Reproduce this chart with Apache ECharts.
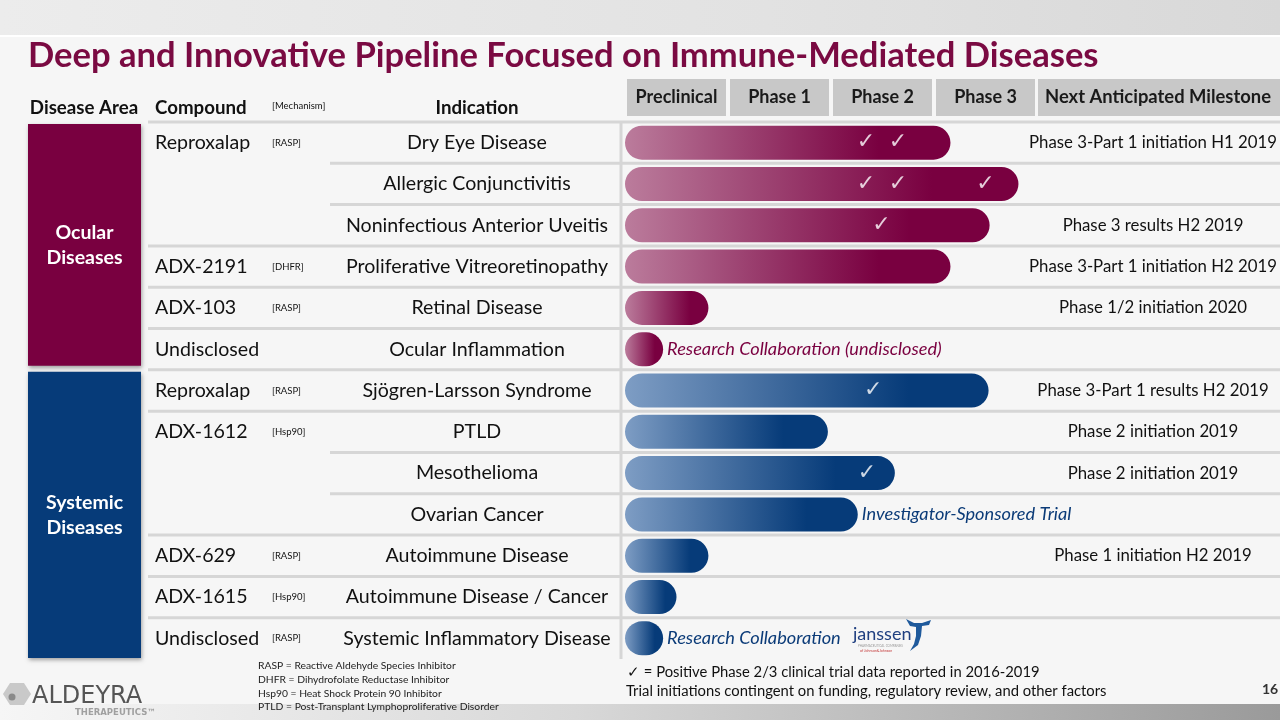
<!DOCTYPE html>
<html><head><meta charset="utf-8">
<script src="https://cdn.jsdelivr.net/npm/echarts@6/dist/echarts.min.js"></script>
<style>html,body{margin:0;padding:0;background:#f6f6f6}#c{width:1280px;height:720px}</style>
</head><body><div id="c"></div>
<script>
// ---------- data ----------
const phases = ['Preclinical', 'Phase 1', 'Phase 2', 'Phase 3'];
const diseaseAreas = ['Ocular\nDiseases', 'Systemic\nDiseases'];
const rowArea = [0,0,0,0,0,0,1,1,1,1,1,1,1];
const compounds = ['Reproxalap','','','ADX-2191','ADX-103','Undisclosed','Reproxalap','ADX-1612','','','ADX-629','ADX-1615','Undisclosed'];
const mechanisms = ['[RASP]','','','[DHFR]','[RASP]','','[RASP]','[Hsp90]','','','[RASP]','[Hsp90]','[RASP]'];
const indications = ['Dry Eye Disease','Allergic Conjunctivitis','Noninfectious Anterior Uveitis','Proliferative Vitreoretinopathy','Retinal Disease','Ocular Inflammation','Sjögren-Larsson Syndrome','PTLD','Mesothelioma','Ovarian Cancer','Autoimmune Disease','Autoimmune Disease / Cancer','Systemic Inflammatory Disease'];
const progress = [3.16, 3.82, 3.54, 3.16, 0.81, 0.37, 3.53, 1.97, 2.62, 2.26, 0.81, 0.50, 0.37];
const milestones = ['Phase 3-Part 1 initiation H1 2019','','Phase 3 results H2 2019','Phase 3-Part 1 initiation H2 2019','Phase 1/2 initiation 2020','','Phase 3-Part 1 results H2 2019','Phase 2 initiation 2019','Phase 2 initiation 2019','','Phase 1 initiation H2 2019','',''];
const barNotes = ['','','','','','Research Collaboration (undisclosed)','','','','Investigator-Sponsored Trial','','','Research Collaboration'];
const checkX = [2.34, 2.65, 2.34, 2.65, 3.50, 2.49, 2.41, 2.35];
const checkRow = [0, 0, 1, 1, 1, 2, 6, 8];
const footLeft = ['RASP = Reactive Aldehyde Species Inhibitor','DHFR = Dihydrofolate Reductase Inhibitor','Hsp90 = Heat Shock Protein 90 Inhibitor','PTLD = Post-Transplant Lymphoproliferative Disorder'];
const footRight = ['\u2713 = Positive Phase 2/3 clinical trial data reported in 2016-2019','Trial initiations contingent on funding, regulatory review, and other factors'];
const titleText = 'Deep and Innovative Pipeline Focused on Immune-Mediated Diseases';
const pageNo = '16';

// ---------- style ----------
const F = 'Lato, "Open Sans", sans-serif';
const areaDark = ['#790040', '#063b79'];
const areaLight = ['#bb7c9c', '#7e9dc4'];
const noteColor = ['#7a0040', '#0b3b78'];
const grad = a => new echarts.graphic.LinearGradient(0,0,1,0,[
  {offset:0,color:areaLight[a]},{offset:0.78,color:areaDark[a]},{offset:1,color:areaDark[a]}]);

const chart = echarts.init(document.getElementById('c'), null, {renderer:'canvas'});
const GL = 625, GR = 243, GT = 122, GB = 61;
const catAxis = (data, extra) => Object.assign({
  type:'category', data, inverse:true, gridIndex:0, position:'left', offset:0,
  axisLine:{show:false}, axisTick:{show:false}, splitLine:{show:false}
}, extra);

const option = {
  animation:false,
  backgroundColor:'#f6f6f6',
  grid:{left:GL, right:GR, top:GT, bottom:GB, containLabel:false, outerBoundsMode:'none'},
  xAxis:[
    {type:'value', min:0, max:4, show:false},
    {type:'category', data:phases, position:'top', boundaryGap:true,
     axisLine:{show:false}, axisTick:{show:false},
     axisLabel:{margin:6, interval:0, backgroundColor:'#c8c8c8', width:99, height:37, lineHeight:37,
       align:'center', color:'#1a1a1a', fontFamily:F, fontWeight:'bold', fontSize:18}}
  ],
  yAxis:[
    catAxis(indications, {axisLabel:{interval:0, margin:148, align:'center', color:'#111', fontFamily:F, fontSize:19.6}}),
    catAxis(compounds, {axisLabel:{interval:0, margin:470, align:'left', color:'#111', fontFamily:F, fontSize:19.6}}),
    catAxis(mechanisms, {axisLabel:{interval:0, margin:353, align:'left', color:'#111', fontFamily:F, fontSize:9.5, padding:[0,0,4,0]}}),
    catAxis(milestones, {position:'right', axisLabel:{interval:0, margin:116, align:'center', color:'#111', fontFamily:F, fontSize:16.8}})
  ],
  series:[
    {type:'bar', xAxisIndex:0, yAxisIndex:0, barWidth:34, z:2,
     data: progress.map((v,i)=>({value:v,
        itemStyle:{color:grad(rowArea[i]), borderRadius:17},
        label:{show: barNotes[i] !== '', formatter: barNotes[i], position:'right', distance:4,
               color: noteColor[rowArea[i]], fontStyle:'italic', fontFamily:F, fontSize:18.2}}))},
    {type:'scatter', xAxisIndex:0, yAxisIndex:0, symbolSize:2, z:5, itemStyle:{color:'rgba(0,0,0,0)'},
     data: checkX.map((x,i)=>[x, checkRow[i]]),
     label:{show:true, position:'inside', formatter:'\u2713', color:'#ffffff', fontSize:22, fontWeight:'bold', fontFamily:'DejaVu Sans'}}
  ]
};
chart.setOption(option);

// ---------- layout decorations from axis scale ----------
const yc = i => chart.convertToPixel({yAxisIndex:0}, i);
const step = yc(1) - yc(0);
const g = [];
// background bands
g.push({type:'rect', z:-10, shape:{x:0,y:0,width:1280,height:35},
  style:{fill:new echarts.graphic.LinearGradient(0,0,1,0,[{offset:0,color:'#ececec'},{offset:0.6,color:'#e2e2e2'},{offset:1,color:'#d8d8d8'}])}});
g.push({type:'rect', z:-10, shape:{x:0,y:35,width:1280,height:2}, style:{fill:'#ffffff'}});
g.push({type:'rect', z:-10, shape:{x:0,y:704,width:1280,height:16},
  style:{fill:new echarts.graphic.LinearGradient(0,0,1,0,[{offset:0,color:'#f6f6f6'},{offset:0.45,color:'#d8d8d8'},{offset:1,color:'#9a9a9a'}])}});
// title
g.push({type:'text', style:{text:titleText, x:28, y:56, verticalAlign:'middle', fill:'#7a0a42', font:'bold 34.6px '+F}});
// headers
g.push({type:'text', style:{text:'Disease Area', x:84, y:108, align:'center', verticalAlign:'middle', fill:'#111', font:'bold 18.7px '+F}});
g.push({type:'text', style:{text:'Compound', x:155, y:108, verticalAlign:'middle', fill:'#111', font:'bold 18.7px '+F}});
g.push({type:'text', style:{text:'[Mechanism]', x:272, y:106, verticalAlign:'middle', fill:'#111', font:'9.5px '+F}});
g.push({type:'text', style:{text:'Indication', x:477, y:108, align:'center', verticalAlign:'middle', fill:'#111', font:'bold 18.7px '+F}});
g.push({type:'rect', shape:{x:1038, y:79, width:242, height:37}, style:{fill:'#c8c8c8'}});
g.push({type:'text', style:{text:'Next Anticipated Milestone', x:1158, y:97.5, align:'center', verticalAlign:'middle', fill:'#1a1a1a', font:'bold 18.4px '+F}});
// row separators
for (let i=0;i<indications.length;i++){
  const yTop = yc(i) - step/2;
  const x0 = compounds[i] === '' ? 330 : 148;
  g.push({type:'line', z:-1, shape:{x1:x0, y1:yTop, x2:1280, y2:yTop}, style:{stroke:'#d6d6d6', lineWidth:3}});
}
// vertical divider
g.push({type:'line', z:-1, shape:{x1:621, y1:yc(0)-step/2, x2:621, y2:yc(indications.length-1)+step/2}, style:{stroke:'#d6d6d6', lineWidth:3}});
// disease area boxes
diseaseAreas.forEach((name,a)=>{
  const rows = rowArea.map((v,i)=>v===a?i:-1).filter(i=>i>=0);
  const y0 = yc(rows[0]) - step/2 + 2, y1 = yc(rows[rows.length-1]) + step/2 - (a===1?1:4);
  g.push({type:'rect', shape:{x:28, y:y0, width:113, height:y1-y0},
    style:{fill:areaDark[a], shadowBlur:4, shadowColor:'rgba(0,0,0,0.35)', shadowOffsetX:1, shadowOffsetY:2}});
  g.push({type:'text', style:{text:name, x:84.5, y:(y0+y1)/2, align:'center', verticalAlign:'middle', fill:'#fff', font:'bold 19.5px '+F, lineHeight:25}});
});
// janssen logo (text)
const yJ = yc(12);
g.push({type:'text', style:{text:'janssen', x:853, y:yJ-4, verticalAlign:'middle', fill:'#1f3f80', font:'18px '+F}});
g.push({type:'text', style:{text:'PHARMACEUTICAL COMPANIES', x:858, y:yJ+8, verticalAlign:'middle', fill:'#999', font:'3px '+F}});
g.push({type:'text', style:{text:'of Johnson&Johnson', x:860, y:yJ+13, verticalAlign:'middle', fill:'#c43a3a', font:'3.5px '+F}});
g.push({type:'polygon', shape:{points:[[906,619],[914,623],[922,623],[931,620],[929,625],[922,626],[921,636],[918,645],[910,651],[914,644],[916,636],[916,627],[910,626]]}, style:{fill:'#1f5a9c'}});
// footnotes
footLeft.forEach((t,i)=>g.push({type:'text', style:{text:t, x:258, y:666+i*13.7, verticalAlign:'middle', fill:'#222', font:'10.3px '+F}}));
g.push({type:'text', style:{text:footRight[0], x:627, y:672, verticalAlign:'middle', fill:'#111', font:'14.8px '+F}});
g.push({type:'text', style:{text:footRight[1], x:626, y:691, verticalAlign:'middle', fill:'#111', font:'14.8px '+F}});
g.push({type:'text', style:{text:pageNo, x:1262, y:689, verticalAlign:'middle', fill:'#333', font:'bold 14px '+F}});
// Aldeyra logo
g.push({type:'polygon', shape:{points:[[10,683],[24,683],[31,694],[24,705],[10,705],[3,694]]}, style:{fill:'#c9c9c9'}});
g.push({type:'circle', shape:{cx:12, cy:697, r:3.5}, style:{fill:'#8a8a8a'}});
g.push({type:'text', style:{text:'ALDEYRA', x:32, y:697, verticalAlign:'middle', fill:'#555', font:'24px "DejaVu Sans", sans-serif'}});
g.push({type:'text', style:{text:'THERAPEUTICS\u2122', x:75, y:713, verticalAlign:'middle', fill:'#a0a0a0', font:'bold 8.5px "DejaVu Sans", sans-serif'}});

chart.setOption({graphic:g});
</script></body></html>
